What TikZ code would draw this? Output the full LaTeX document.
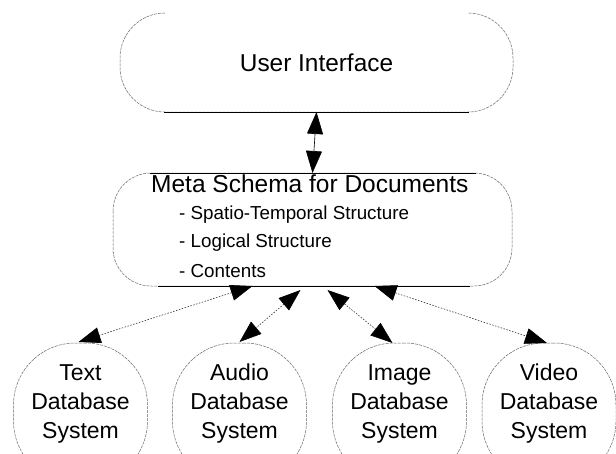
\documentclass[tikz,border=0pt]{standalone}
\usepackage{fontspec}
\setmainfont{Liberation Sans}
\usetikzlibrary{arrows.meta,calc}
\begin{document}
\begin{tikzpicture}[x=1pt,y=-1pt,
  outl/.style={draw=black!60, line width=0.5pt, dash pattern=on 3pt off 1pt},
  edgeline/.style={draw=black, line width=0.6pt},
  box/.style={minimum width=#1, inner sep=0pt, outer sep=0pt},
  dbshape/.style={draw=black!60, line width=0.5pt, dash pattern=on 3pt off 1pt, minimum width=134pt, minimum height=140pt, rounded corners=62pt, inner sep=0pt, outer sep=0pt},
  dbtext/.style={font=\fontsize{23}{29}\selectfont, align=center, inner sep=0pt},
  bigtip/.tip={Triangle[length=22pt,width=16pt,color=black,fill=black]},
  vconn/.style={bigtip-bigtip, draw=black, line width=0.6pt},
  dconn/.style={bigtip-bigtip, draw=black!80, line width=0.6pt, dash pattern=on 1.5pt off 1.5pt}
]
\useasboundingbox (0,0) rectangle (616,453);

% User Interface
\node[box=393pt, minimum height=99pt, font=\fontsize{24.4}{28}\selectfont] (ui) at (316.5,62.5) {User Interface};
\draw[outl, rounded corners=45pt] (165,13) -- (120,13) -- (120,112) -- (513,112) -- (513,13) -- (468,13);
\draw[edgeline] (164,112) -- (469,112);

% Meta schema
\node[box=399pt, minimum height=113pt] (meta) at (312.5,229.5) {};
\draw[outl, rounded corners=38pt] (113,173) rectangle (512,286);
\draw[edgeline] (150,173) -- (476,173);
\draw[edgeline] (158,286) -- (470,286);
\node[anchor=base west, inner sep=0pt, font=\fontsize{24.5}{28}\selectfont] (mt) at (151,192) {Meta Schema for Documents};
\node[anchor=base west, inner sep=0pt, font=\fontsize{18.8}{22}\selectfont] (m1) at (179,219) {- Spatio-Temporal Structure};
\node[anchor=base west, inner sep=0pt, font=\fontsize{18.8}{22}\selectfont] (m2) at (179,247) {- Logical Structure};
\node[anchor=base west, inner sep=0pt, font=\fontsize{18.8}{22}\selectfont] (m3) at (179,277) {- Contents};

% Database systems
\node[dbshape] (tdb) at (80.5,413) {};
\node[dbshape] (adb) at (239.5,413) {};
\node[dbshape] (idb) at (399.5,413) {};
\node[dbshape] (vdb) at (549,413) {};
\node[dbtext] (tdbt) at (80.5,404) {Text\\Database\\System};
\node[dbtext] (adbt) at (239.5,404) {Audio\\Database\\System};
\node[dbtext] (idbt) at (399.5,404) {Image\\Database\\System};
\node[dbtext] (vdbt) at (549,404) {Video\\Database\\System};

% Connectors
\draw[vconn] (ui.south) -- (meta.north);
\draw[dconn] ($(meta.south)+(-60,0)$) -- ($(tdb.north)+(-2,-1)$);
\draw[dconn] ($(meta.south)+(-12,4)$) -- ($(adb.north)+(0,-1)$);
\draw[dconn] ($(meta.south)+(15,4)$) -- ($(idb.north)+(-7,0)$);
\draw[dconn] ($(meta.south)+(62,0)$) -- ($(vdb.north)+(-2,0)$);
\end{tikzpicture}
\end{document}
